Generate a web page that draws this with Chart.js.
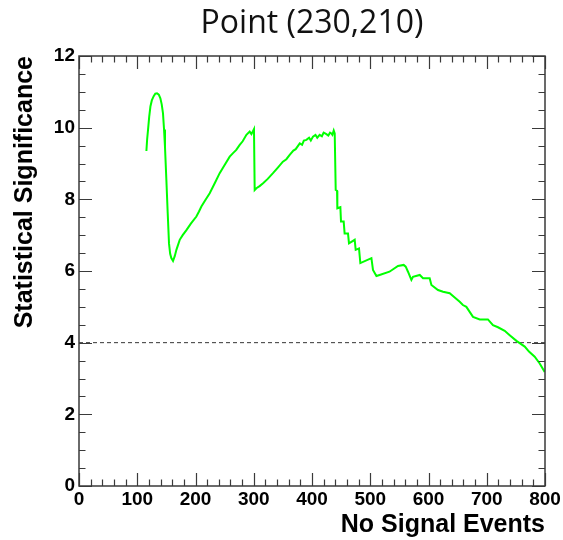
<!DOCTYPE html>
<html>
<head>
<meta charset="utf-8">
<script src="https://cdn.jsdelivr.net/npm/chart.js@4"></script>
<style>
  html, body { margin: 0; padding: 0; background: #ffffff; }
  #wrap { width: 563px; height: 540px; position: relative; }
</style>
</head>
<body>
<div id="wrap"><canvas id="c" width="563" height="540"></canvas></div>
<script>
// ---- data ----
const xValues = [115.7, 117.0, 118.5, 120.5, 122.6, 125.0, 128.2, 131.0, 133.9, 137.0,
  139.7, 142.0, 144.2, 146.0, 147.6, 150.0, 152.3, 154.5, 156.5, 158.5,
  161.4, 164.5, 167.2, 172.9, 178.0, 184.4, 192.0, 201.5, 206.0, 210.1,
  217.0, 224.4, 233.0, 241.5, 250.0, 258.7, 264.4, 270.0, 275.9, 281.0,
  287.4, 293.0, 296.0, 300.4, 301.6, 304.5, 310.0, 316.0, 324.0, 333.0,
  341.0, 350.0, 356.0, 361.7, 368.0, 372.0, 379.0, 383.0, 386.0, 390.4,
  395.0, 398.0, 401.7, 406.0, 409.0, 413.2, 417.0, 420.0, 424.7, 428.0,
  431.0, 433.3, 435.0, 437.3, 439.0, 440.7, 443.0, 443.5, 448.7, 449.8,
  454.4, 456.0, 461.8, 463.5, 473.3, 475.0, 480.7, 483.0, 502.0, 504.7,
  510.6, 516.0, 533.0, 547.6, 557.4, 560.9, 564.8, 570.6, 573.4, 585.0,
  590.6, 602.0, 605.0, 616.3, 625.0, 636.4, 645.0, 653.6, 659.0, 665.0,
  670.7, 676.4, 688.0, 702.0, 710.7, 719.3, 730.8, 739.4, 751.0, 765.2,
  772.5, 782.3, 790.9, 799.5];
const significance = [9.35, 9.68, 9.94, 10.30, 10.59, 10.76, 10.88, 10.95, 10.96, 10.92,
  10.82, 10.65, 10.40, 9.95, 9.47, 8.54, 7.61, 6.77, 6.48, 6.36,
  6.28, 6.42, 6.59, 6.87, 7.00, 7.14, 7.32, 7.52, 7.66, 7.80,
  7.98, 8.17, 8.45, 8.73, 8.96, 9.19, 9.29, 9.38, 9.52, 9.62,
  9.80, 9.89, 9.82, 9.96, 8.26, 8.31, 8.37, 8.45, 8.57, 8.73,
  8.88, 9.05, 9.12, 9.24, 9.36, 9.40, 9.56, 9.52, 9.64, 9.66,
  9.72, 9.64, 9.75, 9.80, 9.72, 9.80, 9.76, 9.86, 9.82, 9.78,
  9.86, 9.84, 9.80, 9.92, 9.84, 8.26, 8.24, 7.75, 7.78, 7.38,
  7.38, 7.05, 7.05, 6.77, 6.87, 6.59, 6.63, 6.22, 6.36, 6.03,
  5.86, 5.89, 5.98, 6.14, 6.17, 6.12, 5.98, 5.75, 5.84, 5.89,
  5.80, 5.80, 5.61, 5.47, 5.42, 5.38, 5.26, 5.14, 5.05, 5.00,
  4.86, 4.72, 4.65, 4.65, 4.49, 4.43, 4.33, 4.21, 4.05, 3.89,
  3.75, 3.61, 3.42, 3.18];
const thresholdX = [0, 800];
const thresholdY = [4, 4];
const xTickLabels = ['0', '100', '200', '300', '400', '500', '600', '700', '800'];
const yTickLabels = ['0', '2', '4', '6', '8', '10', '12'];
const titleText = 'Point (230,210)';
const xTitle = 'No Signal Events';
const yTitle = 'Statistical Significance';

// ---- ROOT-style frame with inward ticks ----
const frameTicks = {
  id: 'frameTicks',
  afterDraw(chart) {
    const { ctx, chartArea: a, scales: { x, y } } = chart;
    ctx.save();
    ctx.strokeStyle = '#3a3a3a';
    ctx.lineWidth = 1.2;
    ctx.beginPath();
    for (let v = 0; v <= 800; v += 20) {
      const px = Math.round(x.getPixelForValue(v)) + 0.5;
      const len = (v % 100 === 0) ? 13 : 6.5;
      ctx.moveTo(px, a.bottom); ctx.lineTo(px, a.bottom - len);
      ctx.moveTo(px, a.top); ctx.lineTo(px, a.top + len);
    }
    for (let v = 0; v <= 12; v += 0.5) {
      const py = Math.round(y.getPixelForValue(v)) + 0.5;
      const len = (v % 2 === 0) ? 13 : 6.5;
      ctx.moveTo(a.left, py); ctx.lineTo(a.left + len, py);
      ctx.moveTo(a.right, py); ctx.lineTo(a.right - len, py);
    }
    ctx.stroke();
    ctx.lineWidth = 1.5;
    ctx.strokeRect(a.left, a.top, a.right - a.left, a.bottom - a.top);
    ctx.restore();
  }
};

const tickFont = { family: '"Liberation Sans", Arial, sans-serif', size: 19, weight: 'bold' };
const titleFont = { family: '"Liberation Sans", Arial, sans-serif', size: 25, weight: 'bold' };

new Chart(document.getElementById('c'), {
  type: 'line',
  data: {
    datasets: [
      {
        label: 'significance',
        data: xValues.map((v, i) => ({ x: v, y: significance[i] })),
        borderColor: '#00ff00',
        borderWidth: 2,
        pointRadius: 0,
        tension: 0,
        fill: false
      },
      {
        label: 'threshold',
        data: thresholdX.map((v, i) => ({ x: v, y: thresholdY[i] })),
        borderColor: '#000000',
        borderWidth: 0.8,
        borderDash: [4, 3],
        pointRadius: 0,
        fill: false
      }
    ]
  },
  options: {
    responsive: false,
    animation: false,
    layout: { padding: { top: 0, left: 0, right: 18, bottom: 0 }, autoPadding: false },
    plugins: {
      legend: { display: false },
      tooltip: { enabled: false },
      title: {
        display: true,
        text: titleText,
        fullSize: false,
        color: '#111111',
        font: { family: '"Open Sans", "Noto Sans", sans-serif', size: 32, weight: 'normal', lineHeight: 1.2 },
        padding: { top: 5, bottom: 12.6 }
      }
    },
    scales: {
      x: {
        type: 'linear',
        min: 0, max: 800,
        afterFit(s) { s.height = 54; },
        afterBuildTicks(s) { s.ticks = xTickLabels.map(t => ({ value: Number(t) })); },
        ticks: { font: tickFont, color: '#000', padding: 2, maxRotation: 0, autoSkip: false,
                 callback: (v) => String(v) },
        grid: { display: false, drawTicks: false },
        border: { display: false },
        title: { display: true, text: xTitle, align: 'end', color: '#000', font: titleFont,
                 padding: { top: 0, bottom: 0 } }
      },
      y: {
        type: 'linear',
        min: 0, max: 12,
        afterFit(s) { s.width = 79; },
        afterBuildTicks(s) { s.ticks = yTickLabels.map(t => ({ value: Number(t) })); },
        ticks: { font: tickFont, color: '#000', padding: 4, autoSkip: false,
                 callback: (v) => String(v) },
        grid: { display: false, drawTicks: false },
        border: { display: false },
        title: { display: true, text: yTitle, align: 'end', color: '#000', font: titleFont,
                 padding: { top: 10, bottom: 0 } }
      }
    }
  },
  plugins: [frameTicks]
});
</script>
</body>
</html>
